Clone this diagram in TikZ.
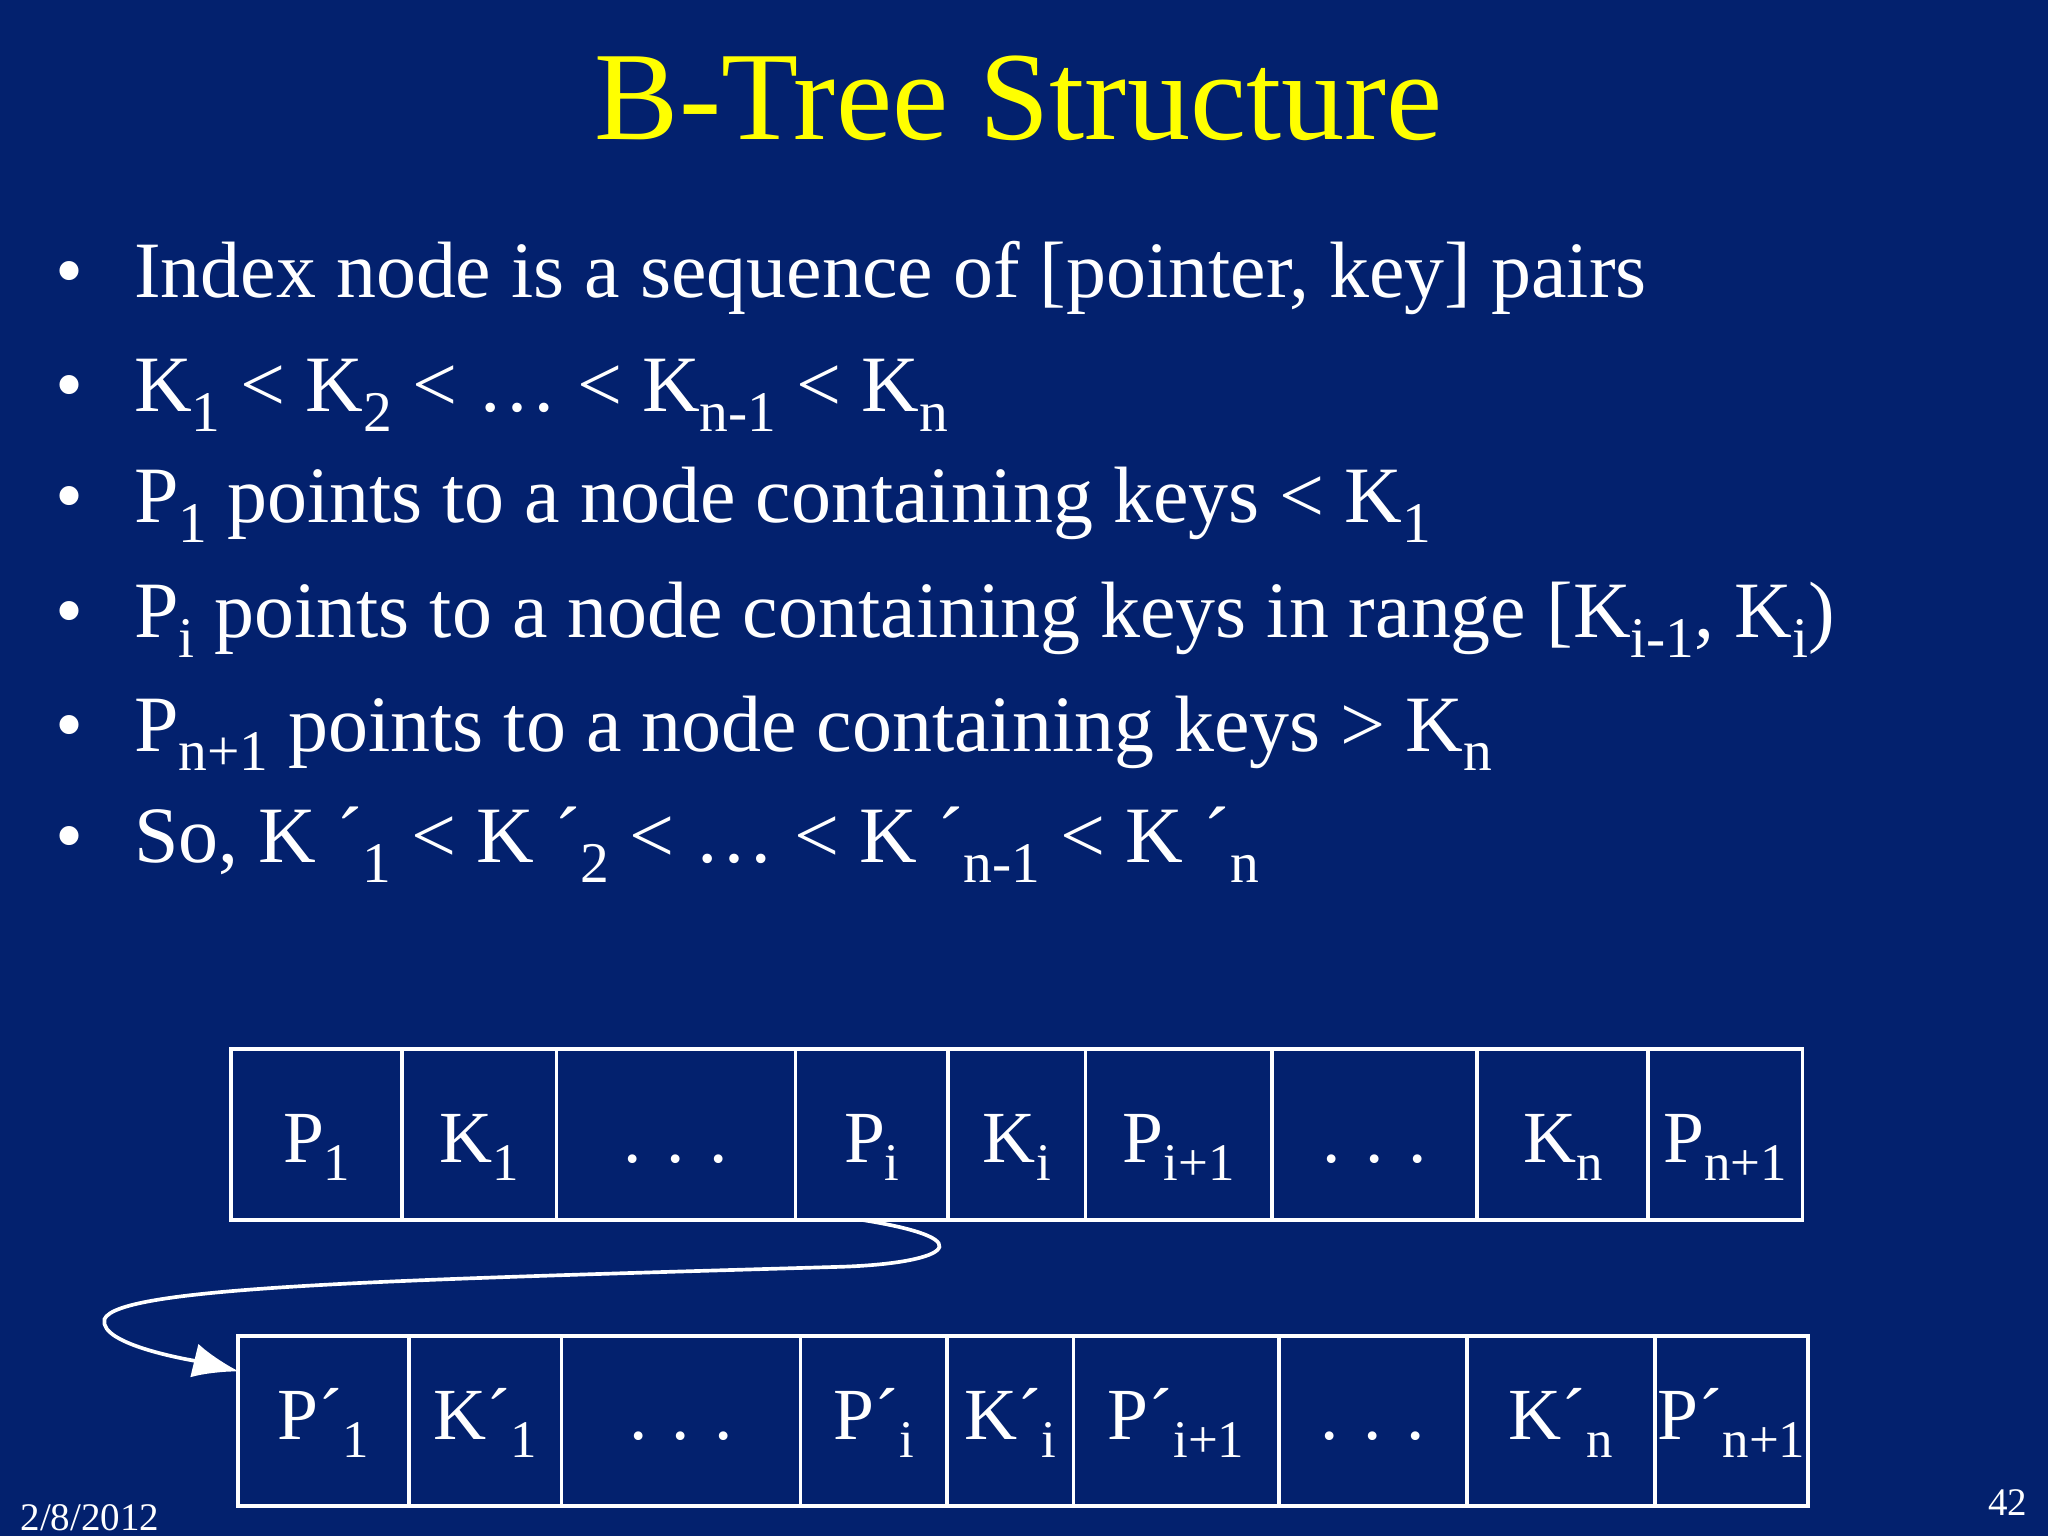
\documentclass[tikz,border=0pt]{standalone}
\usepackage{fontspec}
\usetikzlibrary{arrows.meta}
\setmainfont{Liberation Serif}
\definecolor{bg}{RGB}{3,33,110}
\definecolor{ttl}{RGB}{255,255,0}
\newcommand{\sbx}[1]{\raisebox{-0.25em}{\scalebox{0.72}{#1}}}
\begin{document}
\begin{tikzpicture}[x=0.01cm,y=-0.01cm,
  every node/.style={text=white,inner sep=0pt},
  bul/.style={anchor=base west,font=\fontsize{17.4pt}{21pt}\selectfont},
  cell/.style={draw=white,line width=0.8pt},
  ct/.style={anchor=base,font=\fontsize{16pt}{19pt}\selectfont}]
\fill[bg] (0,0) rectangle (1568,1176);
\node[anchor=base,text=ttl,font=\fontsize{27.5pt}{32pt}\selectfont] (title) at (780,107) {B-Tree Structure};
\foreach \y/\t [count=\i] in {228/{Index node is a sequence of [pointer, key] pairs},
 315/{K\sbx{1} < K\sbx{2} < … < K\sbx{n-1} < K\sbx{n}},
 400/{P\sbx{1} points to a node containing keys < K\sbx{1}},
 488/{P\sbx{i} points to a node containing keys in range [K\sbx{i-1}, K\sbx{i})},
 575/{P\sbx{n+1} points to a node containing keys > K\sbx{n}},
 660/{So, K ´\sbx{1} < K ´\sbx{2} < … < K ´\sbx{n-1} < K ´\sbx{n}}}{
  \node[bul] (b\i) at (42,\y) {•};
  \node[bul] (t\i) at (102,\y) {\t};
}
% top row
\foreach \a/\b/\t [count=\i] in {177/308/{P\sbx{1}},308/426/{K\sbx{1}},426/609/{. . .},609/726/{P\sbx{i}},726/831/{K\sbx{i}},831/974/{P\sbx{i+1}},974/1131/{. . .},1131/1262/{K\sbx{n}},1262/1380/{P\sbx{n+1}}}{
  \draw[cell] (\a,803) rectangle (\b,934);
  \node[ct] (u\i) at ({(\a+\b)/2},890) {\t};
}
% bottom row
\foreach \a/\b/\t [count=\i] in {182/313/{P´\sbx{1}},313/430/{K´\sbx{1}},430/613/{. . .},613/725/{P´\sbx{i}},725/822/{K´\sbx{i}},822/979/{P´\sbx{i+1}},979/1123/{. . .},1123/1267/{K´\sbx{n}},1267/1384/{P´\sbx{n+1}}}{
  \draw[cell] (\a,1023) rectangle (\b,1153);
  \node[ct] (l\i) at ({(\a+\b)/2},1102) {\t};
}
\coordinate (s) at (660,934);
\coordinate (m) at (640,970);
\coordinate (e) at (183,1050);
\draw[white,line width=0.8pt,-{Latex[length=10pt]}] (s) .. controls (760,950) and (720,968) .. (m)
  .. controls (300,980) and (90,985) .. (80,1010) .. controls (75,1030) and (150,1042) .. (e);
\node[anchor=base west,font=\fontsize{8.5pt}{10pt}\selectfont] (date) at (15,1172) {2/8/2012};
\node[anchor=base east,font=\fontsize{8.5pt}{10pt}\selectfont] (pg) at (1553,1160) {42};
\end{tikzpicture}
\end{document}
